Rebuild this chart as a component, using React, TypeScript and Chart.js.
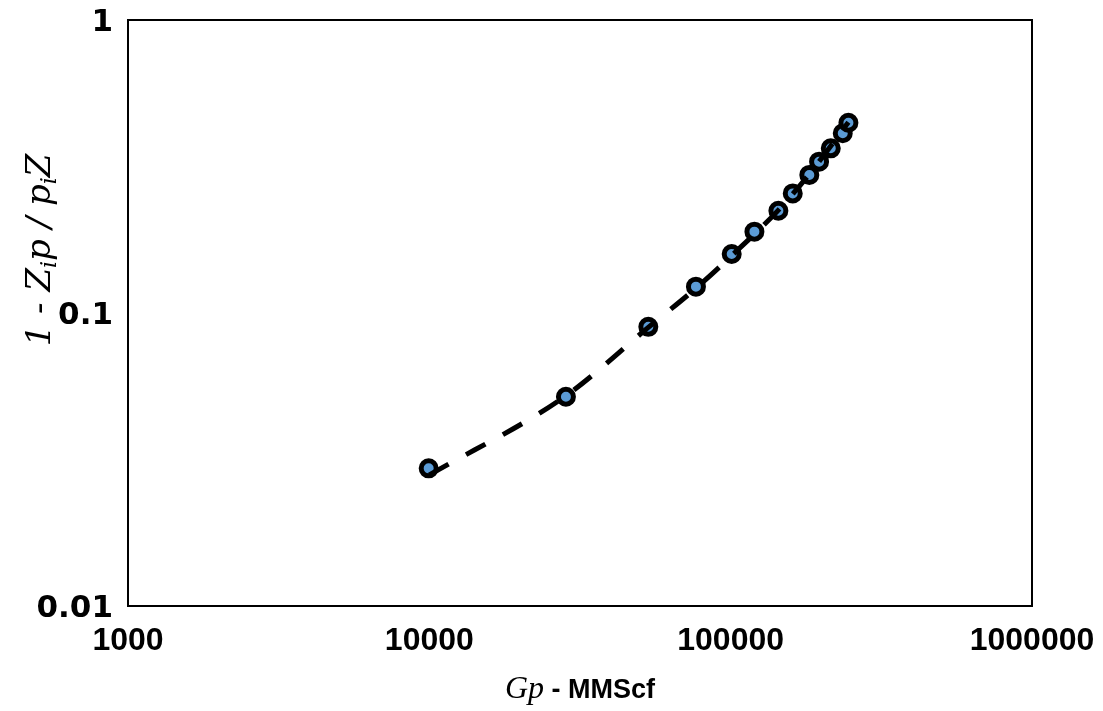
import React, { useEffect, useRef } from "react";
import { Chart, registerables } from "chart.js";

Chart.register(...registerables);

// Cumulative gas production (MMScf) and the matching 1 - Zi·p/(pi·Z) values
const cumulativeGas = [9950, 28400, 53300, 76700, 100800, 119900, 144000, 160700, 182400, 196500, 214900, 235500, 245900];
const depletionRatio = [0.0295, 0.0518, 0.0897, 0.123, 0.159, 0.1895, 0.2234, 0.256, 0.296, 0.3284, 0.3648, 0.4107, 0.446];

// Fitted trend through the data
const trendGas = [10000, 28400, 53300, 76700, 100800, 144000, 182400, 245900];
const trendRatio = [0.028, 0.0522, 0.0893, 0.1215, 0.157, 0.2245, 0.298, 0.448];

// Axis tick values (decades only)
const xTicks = [1000, 10000, 100000, 1000000];
const yTicks = [0.01, 0.1, 1];

type Run = { text: string; font: string; dy: number };

function drawRuns(ctx: CanvasRenderingContext2D, runs: Run[], cx: number, cy: number, rotate: boolean) {
  ctx.save();
  ctx.translate(cx, cy);
  if (rotate) ctx.rotate(-Math.PI / 2);
  ctx.textBaseline = "alphabetic";
  ctx.textAlign = "left";
  ctx.fillStyle = "#000";
  let total = 0;
  const widths = runs.map((r) => {
    ctx.font = r.font;
    const w = ctx.measureText(r.text).width;
    total += w;
    return w;
  });
  let x = -total / 2;
  runs.forEach((r, i) => {
    ctx.font = r.font;
    ctx.fillText(r.text, x, r.dy);
    x += widths[i];
  });
  ctx.restore();
}

const titlesPlugin = {
  id: "axisTitles",
  afterDraw(chart: any) {
    const { ctx, chartArea } = chart;
    // plot frame
    ctx.save();
    ctx.strokeStyle = "#000";
    ctx.lineWidth = 2;
    ctx.strokeRect(chartArea.left, chartArea.top, chartArea.right - chartArea.left, chartArea.bottom - chartArea.top);
    ctx.restore();

    const it = "italic 34px 'DejaVu Serif', serif";
    const itSub = "italic 22px 'DejaVu Serif', serif";
    drawRuns(
      ctx,
      [
        { text: "1 - Z", font: it, dy: 0 },
        { text: "i", font: itSub, dy: 6 },
        { text: "p / p", font: it, dy: 0 },
        { text: "i", font: itSub, dy: 6 },
        { text: "Z", font: it, dy: 0 },
      ],
      50,
      250,
      true
    );
    drawRuns(
      ctx,
      [
        { text: "Gp", font: "italic 32px 'Liberation Serif', serif", dy: 0 },
        { text: " - MMScf", font: "bold 27px 'Liberation Sans', Arial, sans-serif", dy: 0 },
      ],
      (chartArea.left + chartArea.right) / 2,
      698,
      false
    );
  },
};

export default function App() {
  const canvasRef = useRef<HTMLCanvasElement | null>(null);

  useEffect(() => {
    if (!canvasRef.current) return;
    const chart = new Chart(canvasRef.current, {
      type: "scatter",
      data: {
        datasets: [
          {
            type: "line",
            label: "Trend",
            data: trendGas.map((x, i) => ({ x, y: trendRatio[i] })),
            borderColor: "#000",
            borderWidth: 5,
            borderDash: [22, 20],
            pointRadius: 0,
            fill: false,
            cubicInterpolationMode: "monotone",
          },
          {
            label: "Data",
            data: cumulativeGas.map((x, i) => ({ x, y: depletionRatio[i] })),
            backgroundColor: "#5B9BD5",
            borderColor: "#000",
            borderWidth: 5,
            pointRadius: 7.5,
            pointHoverRadius: 7.5,
          },
        ],
      },
      options: {
        animation: false,
        responsive: false,
        maintainAspectRatio: false,
        layout: { padding: { top: 20, right: 71, left: 0, bottom: 0 } },
        plugins: { legend: { display: false }, tooltip: { enabled: false } },
        scales: {
          x: {
            type: "logarithmic",
            min: 1000,
            max: 1000000,
            grid: { display: false, drawTicks: false },
            border: { display: false },
            afterBuildTicks: (axis: any) => {
              axis.ticks = xTicks.map((v) => ({ value: v }));
            },
            afterFit: (axis: any) => {
              axis.height = 105;
              axis.paddingLeft = 0;
              axis.paddingRight = 0;
            },
            ticks: {
              autoSkip: false,
              maxRotation: 0,
              padding: 16,
              color: "#000",
              font: { family: "'Liberation Sans', Arial, sans-serif", size: 32, weight: "bold" },
              callback: (v: any) => String(v),
            },
          },
          y: {
            type: "logarithmic",
            min: 0.01,
            max: 1,
            grid: { display: false, drawTicks: false },
            border: { display: false },
            afterBuildTicks: (axis: any) => {
              axis.ticks = yTicks.map((v) => ({ value: v }));
            },
            afterFit: (axis: any) => {
              axis.width = 128;
              axis.paddingTop = 0;
              axis.paddingBottom = 0;
            },
            ticks: {
              autoSkip: false,
              padding: 15,
              labelOffset: 3,
              color: "#000",
              font: { family: "'DejaVu Sans', sans-serif", size: 31, weight: "bold" },
              callback: (v: any) => String(v),
            },
          },
        },
      },
      plugins: [titlesPlugin],
    });
    return () => chart.destroy();
  }, []);

  return (
    <div style={{ position: "absolute", left: 0, top: 0, width: 1103, height: 711, background: "#fff" }}>
      <canvas ref={canvasRef} width={1103} height={711} style={{ width: 1103, height: 711, display: "block" }} />
    </div>
  );
}
